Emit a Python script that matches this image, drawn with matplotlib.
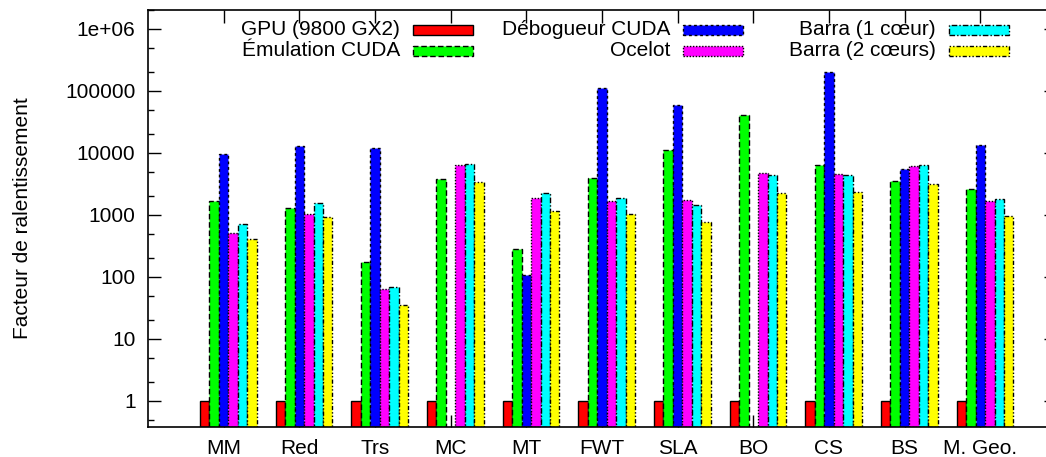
import numpy as np
import matplotlib
matplotlib.use("Agg")
import matplotlib.pyplot as plt
from matplotlib.patches import Rectangle

plt.rcParams["font.family"] = ["Liberation Sans", "DejaVu Sans"]

# Benchmarks and slowdown factors (log scale); NaN = no measurement
categories = ["MM", "Red", "Trs", "MC", "MT", "FWT", "SLA", "BO", "CS", "BS", "M. Geo."]
series_names = ["GPU (9800 GX2)", "Émulation CUDA", "Débogueur CUDA",
                "Ocelot", "Barra (1 cœur)", "Barra (2 cœurs)"]

gpu = [1, 1, 1, 1, 1, 1, 1, 1, 1, 1, 1]
emulation = [1680, 1310, 177, 3810, 280, 3900, 11200, 40900, 6330, 3570, 2630]
debugger = [9640, 13100, 12000, np.nan, 108, 110000, 60000, np.nan, 202000, 5580, 13600]
ocelot = [512, 1050, 65, 6330, 1900, 1680, 1730, 4760, 4640, 6170, 1660]
barra_1 = [723, 1580, 68, 6680, 2260, 1900, 1450, 4420, 4420, 6330, 1810]
barra_2 = [415, 918, 35, 3390, 1160, 1040, 764, 2290, 2380, 3200, 975]

ytick_values = [1, 10, 100, 1000, 10000, 100000, 1000000]
ytick_labels = ["1", "10", "100", "1000", "10000", "100000", "1e+06"]

all_series = [gpu, emulation, debugger, ocelot, barra_1, barra_2]
colors = ["#ff0000", "#00ff00", "#0000ff", "#ff00ff", "#00ffff", "#ffff00"]
edge_styles = ["solid", (0, (4, 2)), (0, (2, 2)), (0, (1, 1.2)),
               (0, (4, 1.5, 1, 1.5)), (0, (3, 1.5, 1, 1.5, 1, 1.5))]

W, H = 1046, 457
fig = plt.figure(figsize=(W / 100, H / 100), dpi=100)

ax_left, ax_right, ax_top, ax_bottom = 148, 1056, 10, 426.7
ax = fig.add_axes([ax_left / W, 1 - ax_bottom / H,
                   (ax_right - ax_left) / W, (ax_bottom - ax_top) / H])

ymin, ymax = 0.385, 2.02e6
ax.set_yscale("log")
ax.set_ylim(ymin, ymax)
ax.set_xlim(-1, 11)

x = np.arange(len(categories))
bar_w = 0.125
for j, (vals, col, ls) in enumerate(zip(all_series, colors, edge_styles)):
    v = np.array(vals, dtype=float)
    ax.bar(x + j * bar_w - 0.25, v - ymin, bottom=ymin, width=bar_w,
           color=col, edgecolor="black", linewidth=1.0, linestyle=ls, zorder=2)

ax.set_axisbelow(True)
ax.set_xticks(x)
ax.set_xticklabels(categories, fontsize=15)
ax.set_yticks(ytick_values)
ax.set_yticklabels(ytick_labels, fontsize=15)
ax.yaxis.set_minor_locator(matplotlib.ticker.LogLocator(base=10, subs=(2.0, 5.0)))
ax.yaxis.set_minor_formatter(matplotlib.ticker.NullFormatter())
ax.tick_params(axis="both", which="major", direction="in", length=9, width=1,
               top=True, right=True)
ax.tick_params(axis="y", which="minor", direction="in", length=4.5, width=1, right=True)
ax.tick_params(axis="x", which="major", pad=9)
ax.tick_params(axis="y", which="major", pad=9)
for s in ax.spines.values():
    s.set_linewidth(1.2)

fig.text(22.5 / W, 1 - 218 / H, "Facteur de ralentissement", rotation=90,
         ha="center", va="center", fontsize=15)

# Key laid out in three columns of two rows
text_right = [400, 670, 936]
sample_left = [413, 683, 949]
row_y = [29.5, 50.5]
for k, (name, col, ls) in enumerate(zip(series_names, colors, edge_styles)):
    c, r = divmod(k, 2)
    fig.text(text_right[c] / W, 1 - row_y[r] / H, name, ha="right",
             va="center", fontsize=15)
    fig.patches.append(Rectangle((sample_left[c] / W, 1 - (row_y[r] + 5) / H),
                                 60 / W, 10 / H, transform=fig.transFigure,
                                 facecolor=col, edgecolor="black",
                                 linewidth=1.0, linestyle=ls))

fig.savefig("out.png", dpi=100)
